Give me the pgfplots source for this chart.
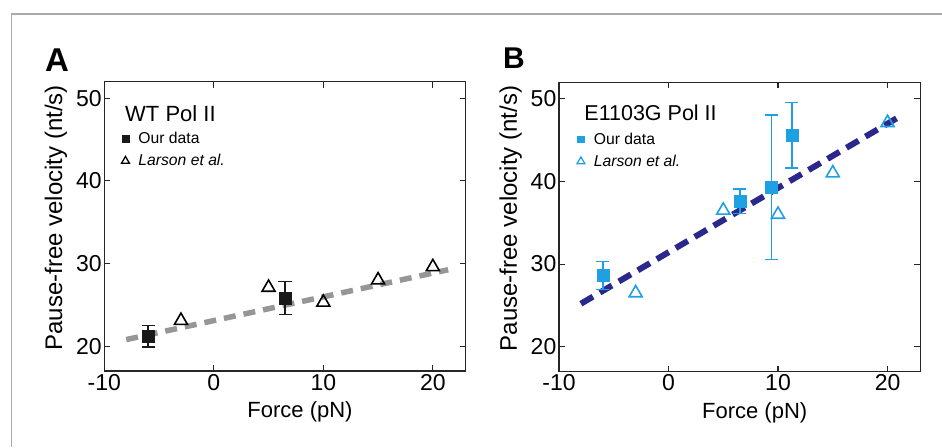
\documentclass[border=0pt]{standalone}
\usepackage{fontspec}
\setmainfont{Liberation Sans}
\usepackage{pgfplots}
\pgfplotsset{compat=1.18}
\definecolor{bblue}{RGB}{30,160,226}
\definecolor{navy}{RGB}{42,40,140}
\definecolor{lgray}{RGB}{150,150,150}
\definecolor{framegray}{RGB}{170,170,170}

\pgfplotstableread{
x y ey
-6 21.2 1.3
6.5 25.8 2.0
}\wtours
\pgfplotstableread{
x y
-3 23.1
5 27.1
10 25.3
15 28.0
20 29.6
}\wtlarson
\pgfplotstableread{
x y
-8 20.8
21.4 29.25
}\wtfit
\pgfplotstableread{
x y ey
-6 28.6 1.7
6.5 37.6 1.5
9.4 39.3 8.75
11.25 45.6 3.95
}\mutours
\pgfplotstableread{
x y
-3 26.5
5 36.5
10 36.0
15 41.0
20 47.1
}\mutlarson
\pgfplotstableread{
x y
-8 25.2
21.3 48.0
}\mutfit

\pgfplotsset{
  myax/.style={
    scale only axis, width=361.4pt, height=289.3pt,
    xmin=-10, xmax=23, ymin=17, ymax=52,
    xtick={-10,0,10,20}, ytick={20,30,40,50},
    tick align=inside, major tick length=6pt,
    axis line style={line width=1.2pt, black!85},
    every tick/.style={line width=1.1pt, black!85},
    /pgf/number format/assume math mode=true,
    ticklabel style={font=\fontsize{23}{26}\selectfont},
    xticklabel style={inner sep=2pt, yshift=-1pt},
    yticklabel style={inner sep=2.5pt},
    xlabel={Force (pN)}, ylabel={Pause-free velocity (nt/s)},
    xlabel style={font=\fontsize{22}{25}\selectfont, at={(rel axis cs:0.5415,-0.1417)}, anchor=center},
    ylabel style={font=\fontsize{24}{27}\selectfont, at={(rel axis cs:-0.1337,0.529)}, anchor=center},
    legend cell align=left,
    legend image code/.code={\draw[mark repeat=2,mark phase=2,##1] plot coordinates {(0pt,0pt) (4pt,0pt) (8pt,0pt)};},
    legend style={draw=none, fill=none, inner sep=0pt, row sep=5.5pt, column sep=7pt,
      nodes={inner sep=2pt}, font=\fontsize{15.7}{18}\selectfont, anchor=north west},
    clip=false,
  }
}

\begin{document}
\begin{tikzpicture}
\useasboundingbox (0,0) rectangle (942pt,-447pt);
\draw[framegray, line width=1.5pt] (942pt,-14pt) -- (11.5pt,-14pt) -- (11.5pt,-447pt);
\node[anchor=base west, inner sep=0pt, font=\fontsize{33}{36}\selectfont\bfseries] at (45pt,-71pt) {A};
\node[anchor=base west, inner sep=0pt, font=\fontsize{30}{33}\selectfont\bfseries] at (503pt,-68pt) {B};

\begin{axis}[myax, at={(104.3pt,-371pt)}, anchor=south west,
  legend style={at={(rel axis cs:0.047,0.833)}}]
\addplot[forget plot, lgray, line width=5.5pt, dash pattern=on 12pt off 8pt] table {\wtfit};
\addplot[only marks, mark=square*, mark size=6pt, color=black!90,
  legend image post style={mark size=3.4pt},
  error bars/.cd, y dir=both, y explicit,
  error bar style={line width=1.4pt, black!90},
  error mark options={rotate=90, mark size=6.5pt, line width=1.4pt, black!90}]
  table[y error=ey] {\wtours};
\addlegendentry{Our data}
\addplot[only marks, mark=triangle, mark size=7.5pt, color=black, mark options={line width=1.6pt},
  legend image post style={mark size=4.6pt, mark options={line width=1.3pt}}]
  table {\wtlarson};
\addlegendentry{\textit{Larson et al.}}
\node[anchor=base west, inner sep=0pt, font=\fontsize{22}{25}\selectfont] at (rel axis cs:0.0573,0.864) {WT Pol II};
\end{axis}

\begin{axis}[myax, at={(559pt,-371.5pt)}, anchor=south west,
  legend style={at={(rel axis cs:0.0491,0.833)}}]
\addplot[forget plot, navy, line width=6pt, dash pattern=on 14pt off 8pt] table {\mutfit};
\addplot[only marks, mark=square*, mark size=6pt, color=bblue,
  legend image post style={mark size=3.4pt},
  error bars/.cd, y dir=both, y explicit,
  error bar style={line width=1.6pt, bblue},
  error mark options={rotate=90, mark size=6.5pt, line width=1.6pt, bblue}]
  table[y error=ey] {\mutours};
\addlegendentry{Our data}
\addplot[only marks, mark=triangle, mark size=7.5pt, color=bblue, mark options={line width=1.6pt},
  legend image post style={mark size=4.6pt, mark options={line width=1.3pt}}]
  table {\mutlarson};
\addlegendentry{\textit{Larson et al.}}
\node[anchor=base west, inner sep=0pt, font=\fontsize{21.5}{24}\selectfont] at (rel axis cs:0.0698,0.866) {E1103G Pol II};
\end{axis}
\end{tikzpicture}
\end{document}
